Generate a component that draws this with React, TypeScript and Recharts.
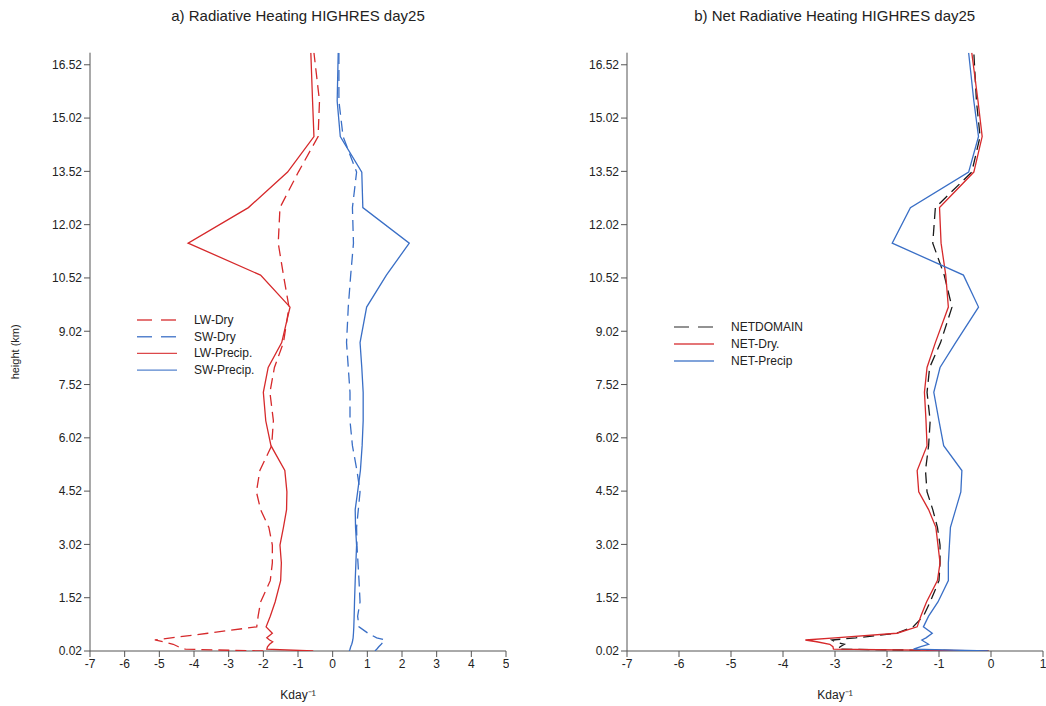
import { ScatterChart, Scatter, XAxis, YAxis, Legend } from 'recharts';

// model levels (km)
const HEIGHTS = [
  0.02, 0.07, 0.14, 0.21, 0.28, 0.33, 0.39, 0.52, 0.7, 1.0, 1.4, 2.0, 2.5, 3.0, 3.5, 4.0,
  4.5, 5.1, 5.8, 6.5, 7.3, 8.0, 8.7, 9.7, 10.6, 11.5, 12.5, 13.5, 14.5, 15.5, 16.86,
];

// panel a) heating rates (K/day)
const LW_DRY = [
  -2.0, -4.25, -4.45, -4.6, -4.9, -5.13, -4.66, -3.6, -2.19, -2.15, -2.08, -1.8, -1.74, -1.74, -1.84, -2.08,
  -2.2, -2.1, -1.76, -1.71, -1.81, -1.68, -1.42, -1.26, -1.42, -1.57, -1.52, -0.99, -0.42, -0.38, -0.54,
];
const SW_DRY = [
  1.22, 1.27, 1.33, 1.4, 1.46, 1.51, 1.27, 1.02, 0.76, 0.72, 0.79, 0.76, 0.73, 0.7, 0.69, 0.74,
  0.79, 0.7, 0.57, 0.5, 0.5, 0.45, 0.4, 0.45, 0.52, 0.6, 0.57, 0.69, 0.3, 0.18, 0.18,
];
const LW_PRECIP = [
  -0.56, -1.9, -1.88, -1.82, -1.73, -1.82, -1.9, -1.74, -1.92, -1.8, -1.66, -1.5, -1.48, -1.52, -1.42, -1.33,
  -1.32, -1.38, -1.78, -1.93, -2.0, -1.86, -1.47, -1.23, -2.08, -4.17, -2.43, -1.3, -0.54, -0.58, -0.63,
];
const SW_PRECIP = [
  0.48, 0.5, 0.52, 0.55, 0.57, 0.58, 0.59, 0.6, 0.61, 0.62, 0.63, 0.65, 0.67, 0.69, 0.66, 0.65,
  0.72, 0.8, 0.85, 0.88, 0.88, 0.84, 0.79, 0.98, 1.55, 2.21, 0.87, 0.84, 0.22, 0.13, 0.16,
];

// panel b) net heating (K/day)
const NET_DOMAIN = [
  -0.05, -2.95, -2.9, -2.82, -3.0, -3.06, -2.6, -1.81, -1.5, -1.3, -1.17, -1.0, -0.98, -0.98, -1.03, -1.12,
  -1.23, -1.26, -1.2, -1.17, -1.23, -1.18, -0.97, -0.75, -0.9, -1.12, -1.07, -0.37, -0.21, -0.28, -0.33,
];
const NET_DRY = [
  -0.05, -3.03, -3.04, -3.1, -3.35, -3.57, -3.0, -1.81, -1.42, -1.35, -1.24, -1.03, -0.98, -1.02, -1.06, -1.2,
  -1.39, -1.42, -1.23, -1.25, -1.28, -1.23, -1.07, -0.82, -0.87, -0.96, -0.99, -0.33, -0.17, -0.25, -0.37,
];
const NET_PRECIP = [
  -0.06, -1.49, -1.35, -1.2, -1.28, -1.33, -1.25, -1.13, -1.3, -1.2, -1.02, -0.82, -0.82, -0.8, -0.78, -0.68,
  -0.58, -0.56, -0.91, -1.0, -1.1, -0.98, -0.68, -0.24, -0.53, -1.9, -1.55, -0.43, -0.24, -0.33, -0.43,
];

const Y_TICKS = [0.02, 1.52, 3.02, 4.52, 6.02, 7.52, 9.02, 10.52, 12.02, 13.52, 15.02, 16.52];
const LEFT_X_TICKS = [-7, -6, -5, -4, -3, -2, -1, 0, 1, 2, 3, 4, 5];
const RIGHT_X_TICKS = [-7, -6, -5, -4, -3, -2, -1, 0, 1];

const FONT = '"Liberation Sans", Arial, Helvetica, sans-serif';
const RED = '#d6292b';
const BLUE = '#3a6fc6';
const BLACK = '#1a1a1a';
const AXIS = '#555555';
const DASH = '11 6';

type Series = { name: string; values: number[]; color: string; legendColor?: string; dash?: string };

const LEFT_SERIES: Series[] = [
  { name: 'LW-Dry', values: LW_DRY, color: RED, dash: DASH },
  { name: 'SW-Dry', values: SW_DRY, color: BLUE, dash: DASH },
  { name: 'LW-Precip.', values: LW_PRECIP, color: RED },
  { name: 'SW-Precip.', values: SW_PRECIP, color: BLUE },
];

const RIGHT_SERIES: Series[] = [
  { name: 'NETDOMAIN', values: NET_DOMAIN, color: BLACK, legendColor: '#555', dash: DASH },
  { name: 'NET-Dry.', values: NET_DRY, color: RED },
  { name: 'NET-Precip', values: NET_PRECIP, color: BLUE },
];

const profile = (values: number[]) => HEIGHTS.map((h, i) => ({ x: values[i], y: h }));

const noDot = () => <g />;

function ProfileLegend({ items, rowGap }: { items: Series[]; rowGap: number }) {
  return (
    <svg width={170} height={items.length * rowGap + 4} style={{ overflow: 'visible' }}>
      {items.map((s, i) => {
        const y = 8 + i * rowGap;
        return (
          <g key={s.name}>
            <line
              x1={0}
              x2={40}
              y1={y}
              y2={y}
              stroke={s.legendColor ?? s.color}
              strokeWidth={1.4}
              strokeDasharray={s.dash ? '15 9' : undefined}
              opacity={0.85}
            />
            <text x={57} y={y + 4} fontSize={12} fontFamily={FONT} fill="#222">
              {s.name}
            </text>
          </g>
        );
      })}
    </svg>
  );
}

type PanelProps = {
  title: string;
  series: Series[];
  xTicks: number[];
  left: number;
  width: number;
  legendLeft: number;
  legendTop: number;
  rowGap: number;
  yLabel?: string;
};

function ProfilePanel({ title, series, xTicks, left, width, legendLeft, legendTop, rowGap, yLabel }: PanelProps) {
  const xDomain: [number, number] = [xTicks[0], xTicks[xTicks.length - 1]];
  const plotWidth = width - 90 - 3;
  return (
    <div style={{ position: 'absolute', left, top: 0, width, height: 706 }}>
      <div
        style={{
          position: 'absolute',
          left: 90,
          width: plotWidth,
          top: 7,
          textAlign: 'center',
          fontFamily: FONT,
          fontSize: 15,
          color: '#222',
        }}
      >
        {title}
      </div>
      <ScatterChart width={width} height={706} margin={{ top: 52.7, right: 3, bottom: 0, left: 0 }}>
        <XAxis
          type="number"
          dataKey="x"
          domain={xDomain}
          ticks={xTicks}
          interval={0}
          allowDataOverflow
          height={55}
          stroke={AXIS}
          tickSize={6}
          tick={{ fill: '#222', fontSize: 12, fontFamily: FONT }}
          label={{ value: 'Kday⁻¹', position: 'insideBottom', offset: 7, fill: '#222', fontSize: 12, fontFamily: FONT }}
        />
        <XAxis
          xAxisId="top"
          orientation="top"
          type="number"
          domain={xDomain}
          ticks={xTicks}
          interval={0}
          height={0}
          stroke={AXIS}
          tickSize={6}
          tick={false}
        />
        <YAxis
          type="number"
          dataKey="y"
          domain={[0.02, 16.86]}
          ticks={Y_TICKS}
          interval={0}
          allowDataOverflow
          width={90}
          stroke={AXIS}
          tickSize={6}
          tickFormatter={(v: number) => v.toFixed(2)}
          tick={{ fill: '#222', fontSize: 12, fontFamily: FONT }}
          label={
            yLabel
              ? {
                  value: yLabel,
                  angle: -90,
                  position: 'insideLeft',
                  offset: 15,
                  fill: '#222',
                  fontSize: 11,
                  fontFamily: FONT,
                  style: { textAnchor: 'middle' },
                }
              : undefined
          }
        />
        <YAxis
          yAxisId="right"
          orientation="right"
          type="number"
          domain={[0.02, 16.86]}
          ticks={Y_TICKS}
          interval={0}
          width={0}
          stroke={AXIS}
          tickSize={6}
          tick={false}
        />
        <Legend
          layout="vertical"
          align="center"
          verticalAlign="middle"
          wrapperStyle={{ left: legendLeft - left, top: legendTop, width: 170 }}
          content={() => <ProfileLegend items={series} rowGap={rowGap} />}
        />
        {series.map((s) => (
          <Scatter
            key={s.name}
            name={s.name}
            data={profile(s.values)}
            fill={s.color}
            shape={noDot}
            line={{ stroke: s.color, strokeWidth: 1.3, strokeDasharray: s.dash, fill: 'none' }}
            lineType="joint"
            isAnimationActive={false}
          />
        ))}
      </ScatterChart>
    </div>
  );
}

export default function App() {
  return (
    <div style={{ position: 'absolute', left: 0, top: 0, width: 1046, height: 706, background: '#fff' }}>
      <ProfilePanel
        title="a) Radiative Heating HIGHRES day25"
        series={LEFT_SERIES}
        xTicks={LEFT_X_TICKS}
        left={0}
        width={509}
        legendLeft={137}
        legendTop={312}
        rowGap={16.7}
        yLabel="height (km)"
      />
      <ProfilePanel
        title="b) Net Radiative Heating HIGHRES day25"
        series={RIGHT_SERIES}
        xTicks={RIGHT_X_TICKS}
        left={536.7}
        width={509}
        legendLeft={674}
        legendTop={319}
        rowGap={17}
      />
    </div>
  );
}
